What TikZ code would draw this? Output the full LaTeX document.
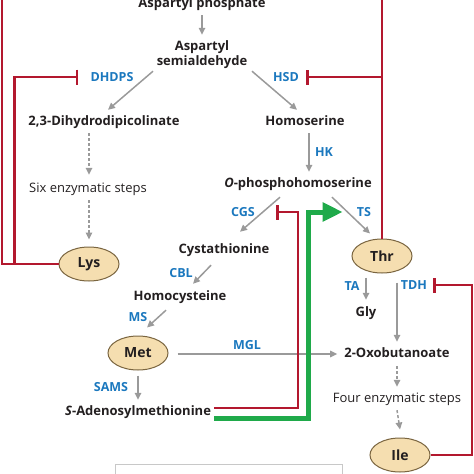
\documentclass[tikz,border=0pt]{standalone}
\usepackage{fontspec}
\setmainfont{Open Sans}
\usetikzlibrary{arrows.meta,shapes.geometric}
\definecolor{inhred}{HTML}{B3182E}
\definecolor{enzblue}{HTML}{1B78BE}
\definecolor{arrgray}{HTML}{9A9A9A}
\definecolor{actgreen}{HTML}{1FAA4A}
\definecolor{aafill}{HTML}{F5DEB0}
\definecolor{aaline}{HTML}{7A6540}
\definecolor{txt}{HTML}{231F20}
\definecolor{boxgray}{HTML}{C8C8C8}
\tikzset{
  met/.style={font=\bfseries\fontsize{13}{15}\selectfont, text=txt, inner sep=0pt, text height=9pt, text depth=3pt, align=center},
  stp/.style={font=\fontsize{13}{15}\selectfont, text=txt, inner sep=0pt, text height=9pt, text depth=3pt},
  enz/.style={font=\bfseries\fontsize{12.5}{14}\selectfont, text=enzblue, inner sep=0pt, text height=8.5pt, text depth=0pt},
  aa/.style={ellipse, draw=aaline, fill=aafill, line width=1pt, minimum width=60pt, minimum height=34pt, inner sep=0pt, font=\bfseries\fontsize{14}{16}\selectfont, text=txt},
  garr/.style={draw=arrgray, line width=1.5pt, -{Triangle[length=7pt,width=6.5pt]}},
  gdash/.style={garr, dash pattern=on 3pt off 2pt},
  inh/.style={draw=inhred, line width=2.5pt, -{Bar[width=15pt]}},
  redline/.style={draw=inhred, line width=2.5pt},
  act/.style={draw=actgreen, line width=5pt, -{Triangle[length=20pt,width=18pt]}}
}
\begin{document}
\begin{tikzpicture}[x=1pt,y=-1pt]
\useasboundingbox (0,0) rectangle (474,474);
\clip (0,0) rectangle (474,474);
% metabolites
\node[met, anchor=base] (ap) at (202,7) {Aspartyl phosphate};
\node[met, text height=, text depth=] (asa) at (202,55) {Aspartyl\\semialdehyde};
\node[met] (dhdp) at (104,122) {2,3-Dihydrodipicolinate};
\node[stp] (six) at (88,189) {Six enzymatic steps};
\node[aa] (lys) at (89,264) {Lys};
\node[met] (hse) at (305,122) {Homoserine};
\node[met] (ophs) at (298,184) {\textit{O}-phosphohomoserine};
\node[met] (cys) at (224,250) {Cystathionine};
\node[met] (hcy) at (180,297) {Homocysteine};
\node[aa] (metaa) at (138,353) {Met};
\node[met] (sam) at (138,412) {\textit{S}-Adenosylmethionine};
\node[aa] (thr) at (382,256) {Thr};
\node[met] (gly) at (366,313) {Gly};
\node[met] (oxo) at (397,354) {2-Oxobutanoate};
\node[stp] (four) at (397,399) {Four enzymatic steps};
\node[aa] (ile) at (400,455) {Ile};
% enzymes
\node[enz] (dhdps) at (112,77) {DHDPS};
\node[enz] (hsd) at (286,77) {HSD};
\node[enz] (hk) at (324,152) {HK};
\node[enz] (cgs) at (243,212) {CGS};
\node[enz] (ts) at (364,212) {TS};
\node[enz] (cbl) at (181,273) {CBL};
\node[enz] (ms) at (138,317) {MS};
\node[enz] (sams) at (111,387) {SAMS};
\node[enz] (mgl) at (247,345) {MGL};
\node[enz] (ta) at (352,286) {TA};
\node[enz] (tdh) at (414,285) {TDH};
% legend box (cut off)
\node[draw=boxgray, line width=0.8pt, minimum width=227pt, minimum height=40pt, inner sep=0pt] (legend) at (228.5,484) {};
% gray reaction arrows
\draw[garr] ([shift={(0,5)}]ap.south) -- ([shift={(0,-6)}]asa.north);
\draw[garr] ([shift={(-49,2)}]asa.south) -- ([shift={(4,-6)}]dhdp.north);
\draw[garr] ([shift={(50,2)}]asa.south) -- ([shift={(-8,-6)}]hse.north);
\draw[gdash] ([shift={(-15,5)}]dhdp.south) -- ([shift={(1,-8)}]six.north);
\draw[gdash] ([shift={(1,5)}]six.south) -- ([shift={(0,-7)}]lys.north);
\draw[garr] ([shift={(4,5)}]hse.south) -- ([shift={(11,-6)}]ophs.north);
\draw[garr] ([shift={(-18,7)}]ophs.south) -- ([shift={(16,-12)}]cys.north);
\draw[garr] ([shift={(34,7)}]ophs.south) -- ([shift={(-12,-5)}]thr.north);
\draw[garr] ([shift={(-13,9)}]cys.south) -- ([shift={(13,-7)}]hcy.north);
\draw[garr] ([shift={(-14,7)}]hcy.south) -- ([shift={(9,-8)}]metaa.north);
\draw[garr] ([shift={(0,5)}]metaa.south) -- ([shift={(0,-6)}]sam.north);
\draw[garr] ([shift={(9,1)}]metaa.east) -- ([shift={(-7,0)}]oxo.west);
\draw[garr] ([shift={(-16,4)}]thr.south) -- ([shift={(0,-7)}]gly.north);
\draw[garr] ([shift={(15,9)}]thr.south) -- ([shift={(0,-6)}]oxo.north);
\draw[gdash] ([shift={(0,6)}]oxo.south) -- ([shift={(0,-6)}]four.north);
\draw[gdash] ([shift={(0,5)}]four.south) -- ([shift={(0,-8)}]ile.north);
% feedback inhibition
\coordinate (topL) at (2,-6);
\coordinate (topR) at (382,-6);
\coordinate (tdhj) at (472,285);
\coordinate (samr) at (298,212);
\coordinate (samg) at (308,212);
\draw[redline] (lys.west) -| (topL);
\draw[inh] ([shift={(-44,0)}]lys.west) |- ([shift={(-12,0)}]dhdps.west);
\draw[redline] (thr.north) -- (topR);
\draw[inh] (thr.north |- hsd) -- ([shift={(7,0)}]hsd.east);
\draw[inh] (ile.east) -| (tdhj) -- ([shift={(6,0)}]tdh.east);
\draw[inh] ([shift={(3,-4)}]sam.east) -| (samr) -- ([shift={(21,0)}]cgs.east);
\draw[act] ([shift={(3,6.5)}]sam.east) -| (samg) -- ([shift={(-14,0)}]ts.west);
\end{tikzpicture}
\end{document}
